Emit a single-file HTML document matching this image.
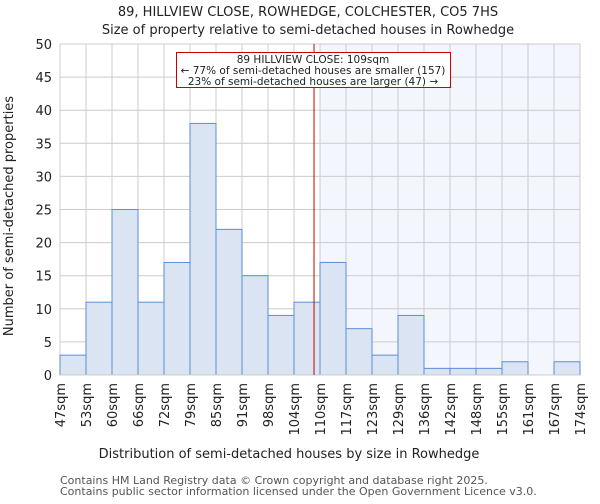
<!DOCTYPE html>
<html><head><meta charset="utf-8"><style>
body{margin:0;background:#fff;font-family:"DejaVu Sans","Liberation Sans",sans-serif}
</style></head><body>
<svg id="chart" width="600" height="500" xmlns="http://www.w3.org/2000/svg" font-family="DejaVu Sans, Liberation Sans, sans-serif">
<text x="308" y="16" font-size="13" text-anchor="middle" fill="#222">89, HILLVIEW CLOSE, ROWHEDGE, COLCHESTER, CO5 7HS</text>
<text x="308" y="34" font-size="13" text-anchor="middle" fill="#222">Size of property relative to semi-detached houses in Rowhedge</text>
<g id="plot"></g>
<text x="289" y="458" font-size="13" text-anchor="middle" fill="#222">Distribution of semi-detached houses by size in Rowhedge</text>
<text transform="translate(13,216) rotate(-90)" font-size="13" text-anchor="middle" fill="#222">Number of semi-detached properties</text>
<text x="60" y="484" font-size="11" fill="#555">Contains HM Land Registry data © Crown copyright and database right 2025.</text>
<text x="60" y="495" font-size="11" fill="#555">Contains public sector information licensed under the Open Government Licence v3.0.</text>
</svg>
<script>
const categories=["47sqm","53sqm","60sqm","66sqm","72sqm","79sqm","85sqm","91sqm","98sqm","104sqm","110sqm","117sqm","123sqm","129sqm","136sqm","142sqm","148sqm","155sqm","161sqm","167sqm","174sqm"];
const counts=[3,11,25,11,17,38,22,15,9,11,17,7,3,9,1,1,1,2,0,2];
const yTicks=[0,5,10,15,20,25,30,35,40,45,50];
const markerIndex=9.77;
const NS="http://www.w3.org/2000/svg";
const L=60,R=580,T=44,B=375,yMax=50;
const bw=(R-L)/counts.length;
const x=i=>L+i*bw;
const y=v=>B-(v/yMax)*(B-T);
const g=document.getElementById('plot');
function mk(t,a){const e=document.createElementNS(NS,t);for(const k in a)e.setAttribute(k,a[k]);g.appendChild(e);return e;}
let e=mk('rect',{x:x(10),y:T,width:R-x(10),height:B-T,fill:'#f3f6fd'});


yTicks.forEach(t=>{
 let l=mk('line',{x1:L,x2:R,y1:y(t),y2:y(t),stroke:'#ccc','stroke-width':1});
 
 
 let tx=mk('text',{x:L-8,y:y(t)+5,'font-size':13,'text-anchor':'end',fill:'#222'});
 tx.textContent=t;
 
 
});
categories.forEach((c,i)=>{
 let l=mk('line',{x1:x(i),x2:x(i),y1:T,y2:B,stroke:'#ccc','stroke-width':1});
 
 
 let tx=mk('text',{transform:`translate(${x(i)+5},${B+8}) rotate(-90)`,'font-size':13,'text-anchor':'end',fill:'#222'});
 tx.textContent=c;
 
 
});
counts.forEach((v,i)=>{
 if(v<=0)return;
 let r=mk('rect',{x:x(i),y:y(v),width:bw,height:B-y(v),fill:'#dae4f3',stroke:'#5b8fd6','stroke-width':1});
 
 
});
let ax=mk('line',{x1:L,x2:R,y1:B,y2:B,stroke:'#ccc'});


let ml=mk('line',{x1:x(markerIndex),x2:x(markerIndex),y1:T,y2:B,stroke:'#cc0000','stroke-width':1});


let box=mk('rect',{x:176.5,y:52.5,width:274,height:35,fill:'#fff',stroke:'#cc0000'});


["89 HILLVIEW CLOSE: 109sqm","← 77% of semi-detached houses are smaller (157)","23% of semi-detached houses are larger (47) →"].forEach((s,i)=>{
 let t=mk('text',{x:313,y:63+i*11,'font-size':10.5,'text-anchor':'middle',fill:'#222'});
 t.textContent=s;
 
 
});
</script>
</body></html>
